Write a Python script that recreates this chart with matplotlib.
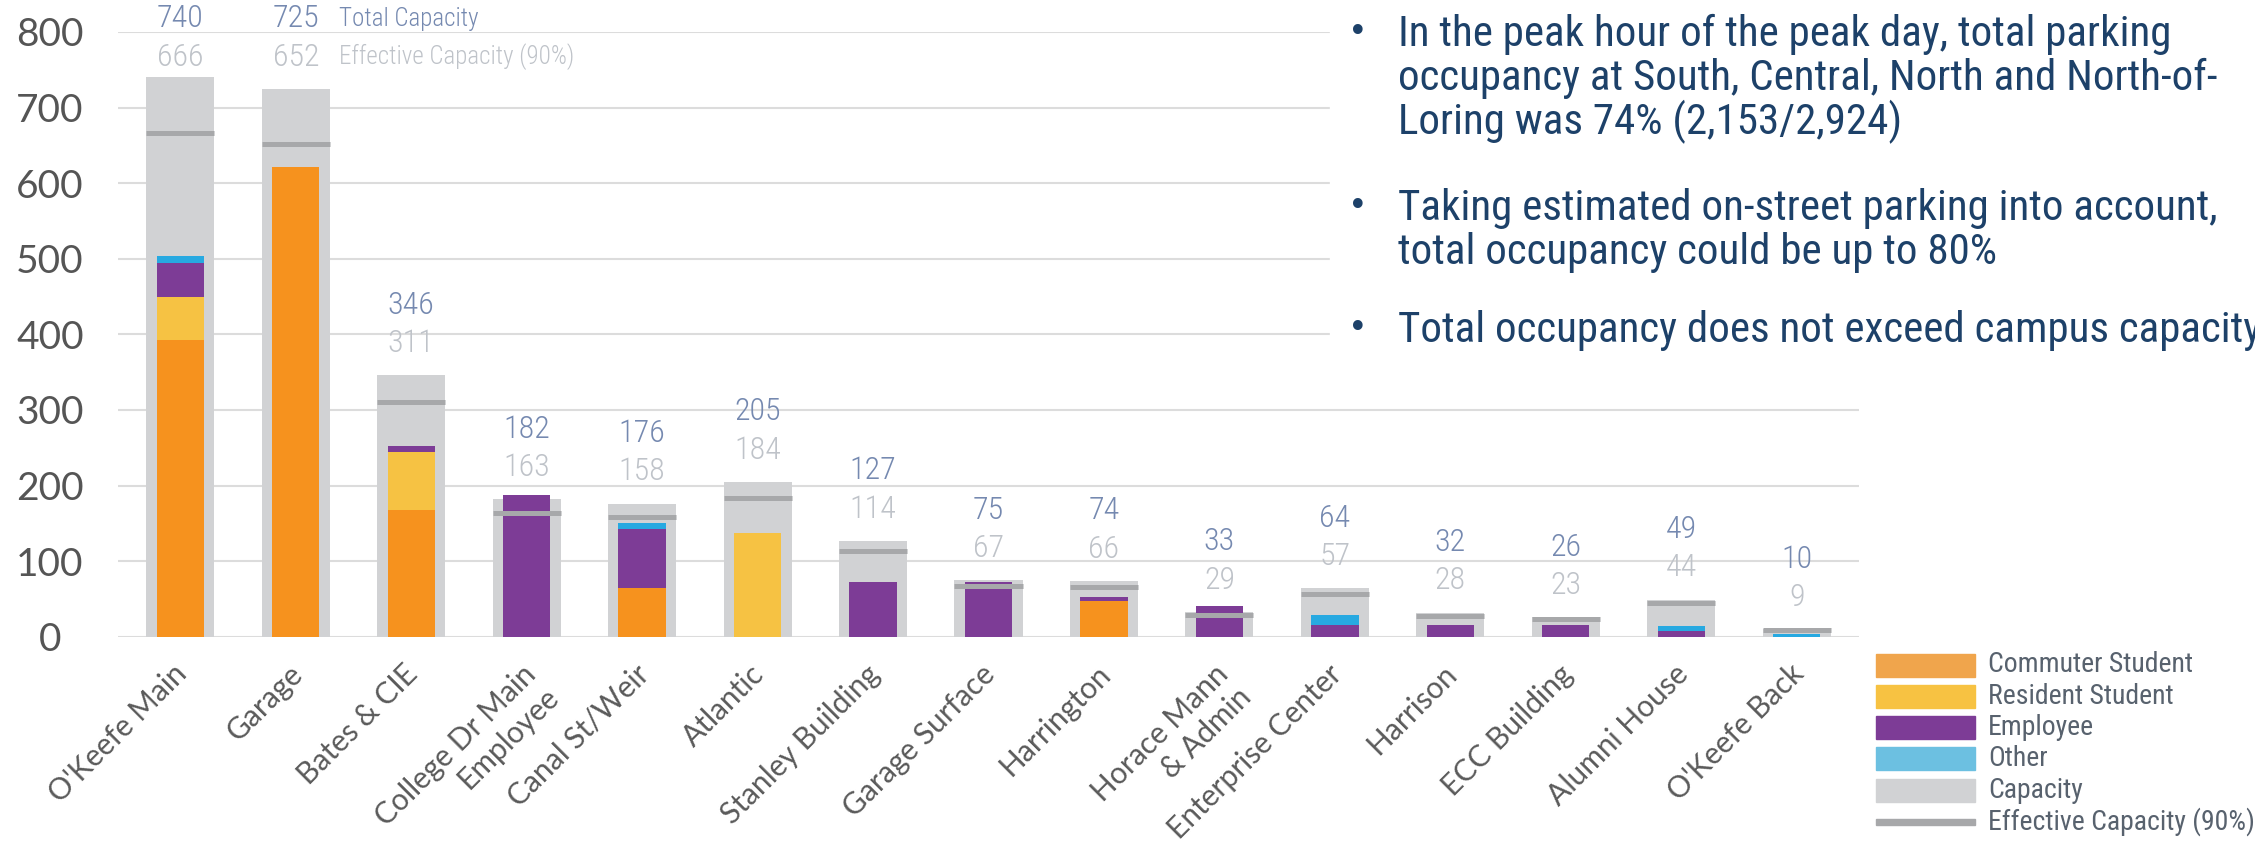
import matplotlib
matplotlib.use("Agg")
import matplotlib.pyplot as plt
from matplotlib.patches import Rectangle
from matplotlib.transforms import ScaledTranslation
import numpy as np

# peak-hour occupancy by parking lot
lots = ["O'Keefe Main", "Garage", "Bates & CIE", "College Dr Main\nEmployee",
        "Canal St/Weir", "Atlantic", "Stanley Building", "Garage Surface",
        "Harrington", "Horace Mann\n& Admin", "Enterprise Center", "Harrison",
        "ECC Building", "Alumni House", "O'Keefe Back"]
total_capacity = [740, 725, 346, 182, 176, 205, 127, 75, 74, 33, 64, 32, 26, 49, 10]
effective_capacity = [666, 652, 311, 163, 158, 184, 114, 67, 66, 29, 57, 28, 23, 44, 9]
commuter = [392, 622, 168, 0, 65, 0, 0, 0, 47, 0, 0, 0, 0, 0, 0]
resident = [58, 0, 76, 0, 0, 137, 0, 0, 0, 0, 0, 0, 0, 0, 0]
employee = [45, 0, 8, 187, 78, 0, 73, 73, 6, 40, 16, 15, 15, 7, 0]
other = [8, 0, 0, 0, 7, 0, 0, 0, 0, 0, 13, 0, 0, 7, 3]

bullets = [
    ["In the peak hour of the peak day, total parking",
     "occupancy at South, Central, North and North-of-",
     "Loring was 74% (2,153/2,924)"],
    ["Taking estimated on-street parking into account,",
     "total occupancy could be up to 80%"],
    ["Total occupancy does not exceed campus capacity"],
]
legend_labels = ["Commuter Student", "Resident Student", "Employee", "Other",
                 "Capacity", "Effective Capacity (90%)"]

ORANGE = "#f6921e"
YELLOW = "#f6c243"
PURPLE = "#7d3c96"
BLUE = "#27a9e1"
CAP = "#d1d2d4"
EFF = "#a7a8aa"
NUM_BLUE = "#7589b0"
NUM_GREY = "#bfc3c9"
NAVY = "#1d4169"
legend_colors = ["#f0a54c", "#f7c242", "#7d3c96", "#6cc0e1", CAP, EFF]

narrow = ["Roboto Condensed", "Roboto", "DejaVu Sans"]
round_font = ["Lato", "DejaVu Sans"]

W, H = 2255, 866
fig = plt.figure(figsize=(W / 100, H / 100), dpi=100)
ax = fig.add_axes([118 / W, 1 - 636.7 / H, (1859 - 118) / W, (636.7 - 32) / H])

x = np.arange(len(lots))
ax.bar(x, total_capacity, width=0.59, color=CAP, zorder=2)
bottom = np.zeros(len(lots))
for vals, col in [(commuter, ORANGE), (resident, YELLOW), (employee, PURPLE), (other, BLUE)]:
    ax.bar(x, vals, width=0.41, bottom=bottom, color=col, zorder=3)
    bottom += np.array(vals)
ax.hlines(effective_capacity, x - 0.295, x + 0.295, colors=EFF, lw=3.6, zorder=4)

# capacity numbers above each bar (the two biggest share one row)
label_top = total_capacity[1]
num_style = dict(textcoords="offset points", va="center", family=narrow,
                 fontweight="light", annotation_clip=False)
for i in x:
    y = min(total_capacity[i], label_top)
    ax.annotate(str(effective_capacity[i]), (i, y), xytext=(0, 22.8), ha="center",
                color=NUM_GREY, fontsize=23, **num_style)
    ax.annotate(str(total_capacity[i]), (i, y), xytext=(0, 50.4), ha="center",
                color=NUM_BLUE, fontsize=23, **num_style)
ax.annotate("Total Capacity", (1, label_top), xytext=(31, 50.4), ha="left",
            color=NUM_BLUE, fontsize=18, **num_style)
ax.annotate("Effective Capacity (90%)", (1, label_top), xytext=(31, 22.8), ha="left",
            color=NUM_GREY, fontsize=18, **num_style)

ax.set_xlim(-0.54, 14.54)
ax.set_ylim(0, 800)
ax.set_yticks(range(0, 801, 100))
ax.yaxis.grid(True, color="#dcdcdc", lw=1.5)
ax.set_axisbelow(True)
for s in ax.spines.values():
    s.set_visible(False)
ax.tick_params(axis="both", length=0)
ax.tick_params(axis="y", pad=49, labelsize=28, labelcolor="#555555")
for lab in ax.get_yticklabels():
    lab.set_horizontalalignment("center")
    lab.set_family(round_font)

ax.set_xticks(x)
ax.set_xticklabels(lots, rotation=45, ha="right", va="top", fontsize=21.5,
                   family=round_font, color="#5a5a5a", multialignment="right")
ax.tick_params(axis="x", pad=16.5)
# two-line names hang their first line off the tick like the others
for lab in ax.get_xticklabels():
    extra = 25 * lab.get_text().count("\n")
    shift = ScaledTranslation((12 + extra) / 100, 0, fig.dpi_scale_trans)
    lab.set_transform(lab.get_transform() + shift)

# overlay in pixel units for the notes box and legend
over = fig.add_axes([0, 0, 1, 1], zorder=5)
over.set_xlim(0, W)
over.set_ylim(H, 0)
over.axis("off")
over.add_patch(Rectangle((1330, 0), W - 1330, 374, color="white"))
for lines, base in zip(bullets, [46, 220, 342]):
    over.text(1358, base - 14, "\u2022", color=NAVY, fontsize=24, va="center", ha="center")
    for j, line in enumerate(lines):
        over.text(1398, base + 44 * j, line, color=NAVY, fontsize=31, family=narrow,
                  va="baseline", ha="left")

for k, (lab, col) in enumerate(zip(legend_labels, legend_colors)):
    yc = 665 + 31.3 * k
    h = 6 if k == len(legend_labels) - 1 else 23
    over.add_patch(Rectangle((1876, yc - h / 2), 99, h, color=col))
    over.text(1988, yc, lab, color="#58626e", fontsize=20, family=narrow,
              va="center", ha="left")

fig.savefig("out.png", dpi=100)
